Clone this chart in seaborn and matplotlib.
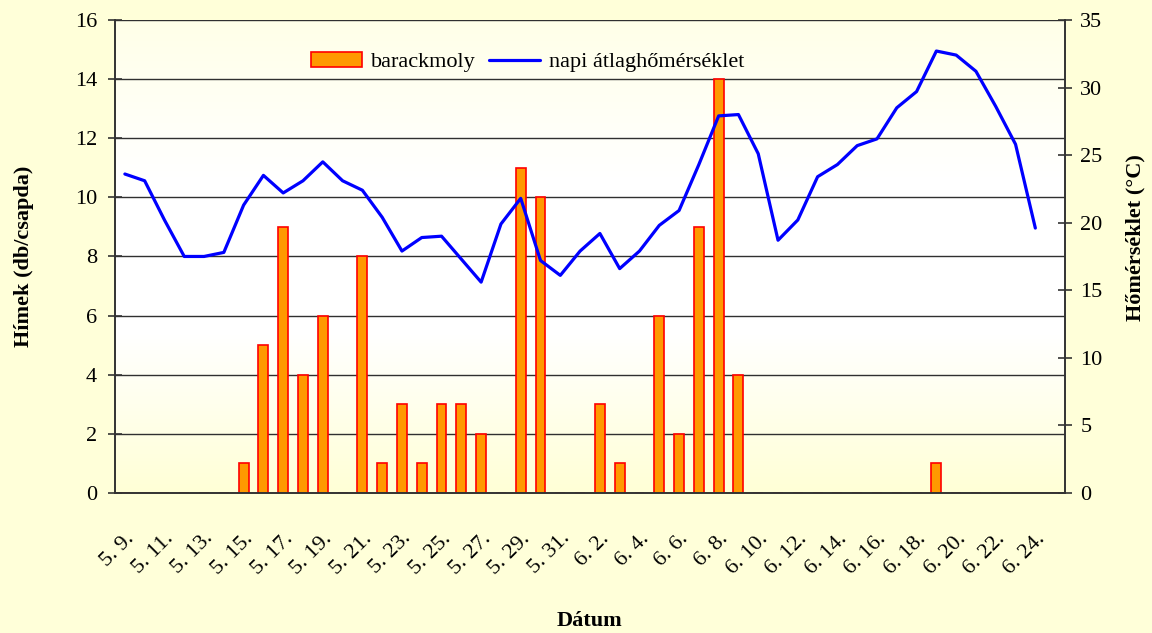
import numpy as np
import pandas as pd
import matplotlib
matplotlib.use("Agg")
import matplotlib.pyplot as plt
import seaborn as sns
from matplotlib.colors import LinearSegmentedColormap
from matplotlib.patches import Patch
from matplotlib.lines import Line2D

# Data: daily categories 5.9 - 6.25 (last category is empty)
dates = [f"5. {d}." for d in range(9, 32)] + [f"6. {d}." for d in range(1, 26)]

# barackmoly catches (db/csapda)
moths = [0, 0, 0, 0, 0, 0, 1, 5, 9, 4, 6, 0, 8, 1, 3, 1, 3, 3, 2, 0, 11, 10, 0, 0,
         3, 1, 0, 6, 2, 9, 14, 4, 0, 0, 0, 0, 0, 0, 0, 0, 0, 1, 0, 0, 0, 0, 0, 0]

# napi átlaghőmérséklet (°C)
temp = [23.6, 23.1, 20.2, 17.5, 17.5, 17.8, 21.3, 23.5, 22.2, 23.1,
        24.5, 23.1, 22.4, 20.4, 17.9, 18.9, 19.0, 17.3, 15.6, 19.9,
        21.8, 17.2, 16.1, 17.9, 19.2, 16.6, 17.9, 19.8, 20.9, 24.3,
        27.9, 28.0, 25.1, 18.7, 20.2, 23.4, 24.3, 25.7, 26.2, 28.5,
        29.7, 32.7, 32.4, 31.2, 28.6, 25.8, 19.6, np.nan]

df = pd.DataFrame({"pos": np.arange(len(dates)), "datum": dates,
                   "moly": moths, "homerseklet": temp})

sns.set_style("white")
plt.rcParams["font.family"] = ["Liberation Serif", "DejaVu Serif"]
plt.rcParams["text.color"] = "black"
plt.rcParams["axes.labelcolor"] = "black"
plt.rcParams["xtick.color"] = "black"
plt.rcParams["ytick.color"] = "black"

bg = "#FFFFD9"
fig = plt.figure(figsize=(11.52, 6.33), dpi=100, facecolor=bg)
rect = [0.0998, 0.2212, 0.8247, 0.7473]

# gradient plot area background
bgax = fig.add_axes(rect, zorder=0)
cmap = LinearSegmentedColormap.from_list("bgfill", ["#FFFFE8", "#FFFFFF", "#FFFFFF", "#FFFFD6"])
grad = np.linspace(0, 1, 256).reshape(-1, 1)
bgax.imshow(grad, aspect="auto", cmap=cmap, extent=[0, 1, 0, 1])
bgax.set_axis_off()

ax = fig.add_axes(rect, zorder=1)
ax.patch.set_visible(False)

sns.barplot(data=df, x="pos", y="moly", ax=ax, color="#FF9900", saturation=1,
            edgecolor="#FF0000", linewidth=1.2, width=0.5, errorbar=None)
ax.set_ylim(0, 16)
ax.set_yticks(np.arange(0, 17, 2))
ax.yaxis.grid(True, color="#303030", linewidth=1)
ax.set_axisbelow(True)

ax2 = ax.twinx()
sns.lineplot(data=df, x="pos", y="homerseklet", ax=ax2, color="#0000FF", linewidth=2.3)
ax2.set_ylim(0, 35)
ax2.set_yticks(np.arange(0, 36, 5))
ax2.grid(False)

for a in (ax, ax2):
    a.set_xlim(-0.5, len(dates) - 0.5)
    a.spines["top"].set_visible(False)
    for s in ("left", "right", "bottom"):
        a.spines[s].set_color("#333333")
        a.spines[s].set_linewidth(1.2)

# x ticks: marks at category boundaries, labels at every second category
ax.set_xticks(np.arange(-0.5, len(dates), 2))
ax.set_xticklabels([])
ax.set_xticks(np.arange(0, len(dates) - 1, 2), minor=True)
ax.set_xticklabels(dates[:-1:2], minor=True, rotation=45, ha="right", va="top",
                   rotation_mode="anchor", fontsize=16)
ax.tick_params(axis="x", which="major", direction="inout", length=10, width=1.2, color="#333333")
ax.tick_params(axis="x", which="minor", length=0, pad=26)
ax.tick_params(axis="y", direction="inout", length=10, width=1.2, color="#333333",
               labelsize=16, pad=8)
ax2.tick_params(axis="y", direction="inout", length=10, width=1.2, color="#333333",
                labelsize=16, pad=6)

ax.set_xlabel("Dátum", fontsize=16, fontweight="bold")
ax.xaxis.set_label_coords(0.5, -0.25)
ax.set_ylabel("Hímek (db/csapda)", fontsize=16, fontweight="bold")
ax.yaxis.set_label_coords(-0.085, 0.5)
ax2.set_ylabel("Hőmérséklet (°C)", fontsize=16, fontweight="bold")
ax2.yaxis.set_label_coords(1.064, 0.54)

handles = [Patch(facecolor="#FF9900", edgecolor="#FF0000", linewidth=1.2),
           Line2D([0], [0], color="#0000FF", linewidth=2.3)]
ax2.legend(handles, ["barackmoly", "napi átlaghőmérséklet"], loc="center",
           bbox_to_anchor=(0.434, 0.911), ncol=2, frameon=False, fontsize=16,
           handlelength=2.3, handletextpad=0.4, columnspacing=0.6)

fig.savefig("out.png", dpi=100, facecolor=bg)
